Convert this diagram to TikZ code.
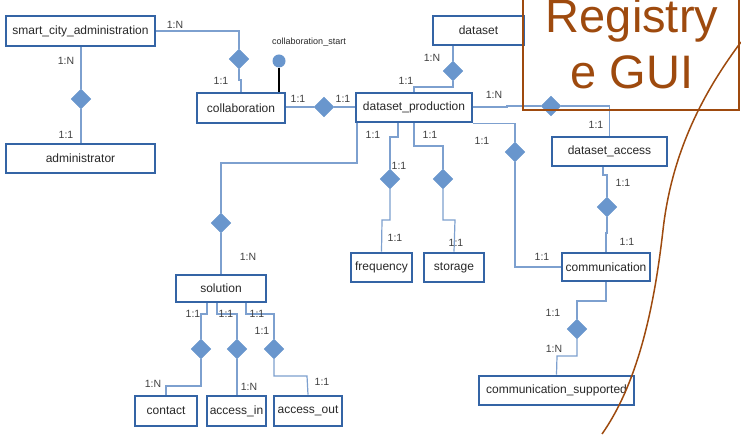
\documentclass[tikz,border=0pt]{standalone}
\usepackage{fontspec}
\setmainfont{Liberation Sans}
\usetikzlibrary{shapes.geometric}
\begin{document}
\begin{tikzpicture}[x=1pt,y=1pt,
  entity/.style={draw=boxColor,line width=2.7pt,fill=white,text=textColor,inner sep=1pt,font=\fontsize{12}{14}\selectfont},
  rel/.style={diamond,fill=relColor,draw=relColor,line width=0.4pt,inner sep=0pt,minimum width=20pt,minimum height=20pt},
  link/.style={draw=linkColor,line width=1.2pt},
  card/.style={text=cardColor,inner sep=0pt,font=\fontsize{10.5}{12}\selectfont}]
\definecolor{fillColor}{RGB}{255,255,255}
\definecolor{boxColor}{RGB}{52,100,165}
\definecolor{linkColor}{RGB}{125,160,207}
\definecolor{relColor}{RGB}{105,150,205}
\definecolor{textColor}{RGB}{40,40,40}
\definecolor{cardColor}{RGB}{64,64,64}
\definecolor{noteColor}{RGB}{158,74,14}
\path[use as bounding box,fill=fillColor] (0,0) rectangle (741,434);
\begin{scope}
\path[clip] (0,0) rectangle (741,434);

\node[entity,minimum width=149,minimum height=30] (sca) at ( 80.5,403.0) {smart\_city\_administration};
\node[entity,minimum width=149,minimum height=29] (admin) at ( 80.5,275.5) {administrator};
\node[entity,minimum width= 88,minimum height=30] (collab) at (241.0,326.0) {collaboration};
\node[entity,minimum width= 91,minimum height=29] (dataset) at (478.5,403.5) {dataset};
\node[entity,minimum width=116,minimum height=29] (dp) at (414.0,326.5) {dataset\_production};
\node[entity,minimum width=115,minimum height=29] (da) at (609.5,282.5) {dataset\_access};
\node[entity,minimum width= 88,minimum height=28] (comm) at (606.0,167.0) {communication};
\node[entity,minimum width=155,minimum height=29] (cs) at (556.5, 43.5) {communication\_supported};
\node[entity,minimum width= 61,minimum height=29] (freq) at (381.5,166.5) {frequency};
\node[entity,minimum width= 60,minimum height=29] (storage) at (454.0,166.5) {storage};
\node[entity,minimum width= 90,minimum height=27] (solution) at (221.0,145.5) {solution};
\node[entity,minimum width= 62,minimum height=30] (contact) at (166.0, 23.0) {contact};
\node[entity,minimum width= 59,minimum height=30] (accin) at (236.5, 23.0) {access\_in};
\node[entity,minimum width= 68,minimum height=30] (accout) at (308.0, 23.0) {access\_out};

\node[rel] (r1) at ( 81,335) {};
\node[rel] (r2) at (239,375) {};
\node[rel] (r3) at (324,327) {};
\node[rel] (r4) at (453,363) {};
\node[rel] (r5) at (551,328) {};
\node[rel] (r6) at (607,227) {};
\node[rel] (r7) at (577,105) {};
\node[rel] (r8) at (221,211) {};
\node[rel] (r9) at (390,255) {};
\node[rel] (r10) at (443,255) {};
\node[rel] (r11) at (515,282) {};
\node[rel] (r12) at (201, 85) {};
\node[rel] (r13) at (237, 85) {};
\node[rel] (r14) at (274, 85) {};

\node[circle,fill=relColor,inner sep=0pt,minimum size=13pt] (cstart) at (279,373) {};
\node[text=textColor,inner sep=0pt,font=\fontsize{9}{11}\selectfont] (cstartlabel) at (309,392) {collaboration\_start};

\coordinate (j2) at (241,354);
\coordinate (j4) at (414,347);
\coordinate (j5) at (507,327);
\coordinate (j6a) at (603,259);
\coordinate (j6b) at (606,201);
\coordinate (j7a) at (606,133);
\coordinate (j7b) at (557, 78);
\coordinate (j8) at (357,271);
\coordinate (j9a) at (398,297);
\coordinate (j9b) at (382,214);
\coordinate (j10a) at (414,288);
\coordinate (j10b) at (455,214);
\coordinate (j12a) at (207,120);
\coordinate (j12b) at (166, 48);
\coordinate (j13) at (217,120);
\coordinate (j14a) at (246,120);
\coordinate (j14b) at (307, 58);

\path[link] (r1 |- sca.south) -- (r1.north);
\path[link] (r1.south) -- (r1 |- admin.north);
\path[link] (sca.east) -| (r2.north);
\path[link] (r2.south) |- (j2) -- (collab.north);
\path[draw=black,line width=1.2pt] (cstart.south) -- (cstart |- collab.north);
\path[link] (collab.east |- r3) -- (r3.west);
\path[link] (r3.east) -- (r3 -| dp.west);
\path[link] (r4 |- dataset.south) -- (r4.north);
\path[link] (r4.south) |- (j4) -- (dp.north);
\path[link] (j5 -| dp.east) -- (j5) |- (r5.west);
\path[link] (r5.east) -| (da.north);
\path[link] (j6a |- da.south) -- (j6a) -| (r6.north);
\path[link] (r6.south) |- (j6b) -- (comm.north);
\path[link] (comm.south) -- (j7a) -| (r7.north);
\path[link] (r7.south) |- (j7b) -- (cs.north);
\path[link] (j8 |- dp.south) -- (j8) -| (r8.north);
\path[link] (r8.south) -- (solution.north);
\path[link] (j9a |- dp.south) -- (j9a) -| (r9.north);
\path[link] (r9.south) |- (j9b) -- (freq.north);
\path[link] (j10a |- dp.south) -- (j10a) -| (r10.north);
\path[link] (r10.south) |- (j10b) -- (storage.north);
\path[link] (dp.south east) -| (r11.north);
\path[link] (r11.south) |- (comm.west);
\path[link] (j12a |- solution.south) -- (j12a) -| (r12.north);
\path[link] (r12.south) |- (j12b) -- (contact.north);
\path[link] (j13 |- solution.south) -- (j13) -| (r13.north);
\path[link] (r13.south) -- (r13 |- accin.north);
\path[link] (j14a |- solution.south) -- (j14a) -| (r14.north);
\path[link] (r14.south) |- (j14b) -- (accout.north);

\node[card] at ( 66,373) {1:N};
\node[card] at ( 66,299) {1:1};
\node[card] at (175,409) {1:N};
\node[card] at (221,353) {1:1};
\node[card] at (298,335) {1:1};
\node[card] at (343,335) {1:1};
\node[card] at (432,376) {1:N};
\node[card] at (406,353) {1:1};
\node[card] at (494,339) {1:N};
\node[card] at (596,309) {1:1};
\node[card] at (623,251) {1:1};
\node[card] at (627,192) {1:1};
\node[card] at (553,121) {1:1};
\node[card] at (554, 85) {1:N};
\node[card] at (373,299) {1:1};
\node[card] at (248,177) {1:N};
\node[card] at (399,268) {1:1};
\node[card] at (395,196) {1:1};
\node[card] at (430,299) {1:1};
\node[card] at (456,191) {1:1};
\node[card] at (482,293) {1:1};
\node[card] at (542,177) {1:1};
\node[card] at (193,120) {1:1};
\node[card] at (153, 50) {1:N};
\node[card] at (226,120) {1:1};
\node[card] at (249, 47) {1:N};
\node[card] at (257,120) {1:1};
\node[card] at (262,103) {1:1};
\node[card] at (322, 52) {1:1};
\end{scope}
\begin{scope}
\path[clip] (0,0) rectangle (741,434);
\path[draw=noteColor,line width=1.5pt] (523,324) rectangle (739,440);
\node[text=noteColor,anchor=base,inner sep=0pt,font=\fontsize{47}{56}\selectfont] (regtop) at (632,401) {Registry};
\node[text=noteColor,anchor=base,inner sep=0pt,font=\fontsize{47}{56}\selectfont] (regbot) at (632,345) {e GUI};
\path[draw=noteColor,line width=1.5pt] (741,392) .. controls (705,344) and (672,284) .. (663,204) .. controls (655,134) and (640,54) .. (602,0);
\end{scope}
\end{tikzpicture}
\end{document}
